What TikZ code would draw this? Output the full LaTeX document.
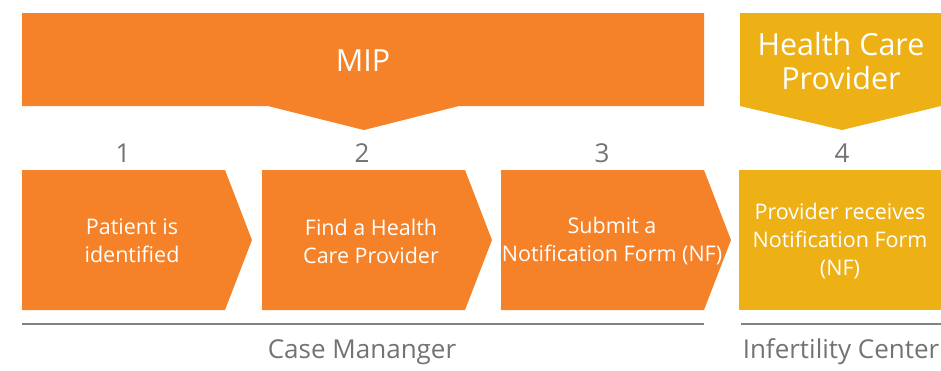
\documentclass[tikz,border=0pt]{standalone}
\usepackage{fontspec}
\setmainfont{Open Sans}
\definecolor{mipOrange}{RGB}{245,130,40}
\definecolor{hcpGold}{RGB}{237,176,21}
\definecolor{labelGray}{RGB}{115,115,115}
\definecolor{ruleGray}{RGB}{130,130,130}
\begin{document}
\begin{tikzpicture}[x=1pt,y=-1pt,
  steptext/.style={text=white,font=\fontsize{21.5}{28}\selectfont,align=center,inner sep=0pt},
  numtext/.style={text=labelGray,font=\fontsize{26}{30}\selectfont,inner sep=0pt},
  grouplabel/.style={text=labelGray,font=\fontsize{26}{30}\selectfont,inner sep=0pt},
  bannertext/.style={text=white,font=\fontsize{30.5}{34}\selectfont,align=center,inner sep=0pt},
  grouprule/.style={draw=ruleGray,line width=1.3pt}]
\useasboundingbox (0,0) rectangle (941,370);

% role banners pointing down at their steps
\fill[mipOrange] (22,13) -- (704,13) -- (704,106) -- (459,106) -- (364,130)
  -- (268,106) -- (22,106) -- cycle;
\fill[hcpGold] (740,13) -- (941,13) -- (941,106) -- (842,130) -- (740,106) -- cycle;
\node[bannertext] (mip) at (363,61) {MIP};
\node[bannertext] (hcp) at (841,61) {Health Care\\Provider};

% step numbers
\node[numtext] (n1) at (123,153) {1};
\node[numtext] (n2) at (362,153) {2};
\node[numtext] (n3) at (602,153) {3};
\node[numtext] (n4) at (842,153) {4};

% process chevrons
\fill[mipOrange] (22,170) -- (225,170) -- (252,240) -- (225,310) -- (22,310) -- cycle;
\fill[mipOrange] (262,170) -- (465,170) -- (492,240) -- (465,310) -- (262,310) -- cycle;
\fill[mipOrange] (501,170) -- (704,170) -- (731,240) -- (704,310) -- (501,310) -- cycle;
\fill[hcpGold] (739,170) rectangle (941,310);

\node[steptext] (s1) at (132,241) {Patient is\\identified};
\node[steptext] (s2) at (371,241) {Find a Health\\Care Provider};
\node[steptext] (s3) at (612,241) {Submit a\\Notification Form (NF)};
\node[steptext] (s4) at (840,241) {Provider receives\\Notification Form\\(NF)};

% responsibility groups
\draw[grouprule] (22,324) -- (704,324);
\draw[grouprule] (741,324) -- (941,324);
\node[grouplabel] (g1) at (362,352) {Case Mananger};
\node[grouplabel] (g2) at (841,352) {Infertility Center};
\end{tikzpicture}
\end{document}
